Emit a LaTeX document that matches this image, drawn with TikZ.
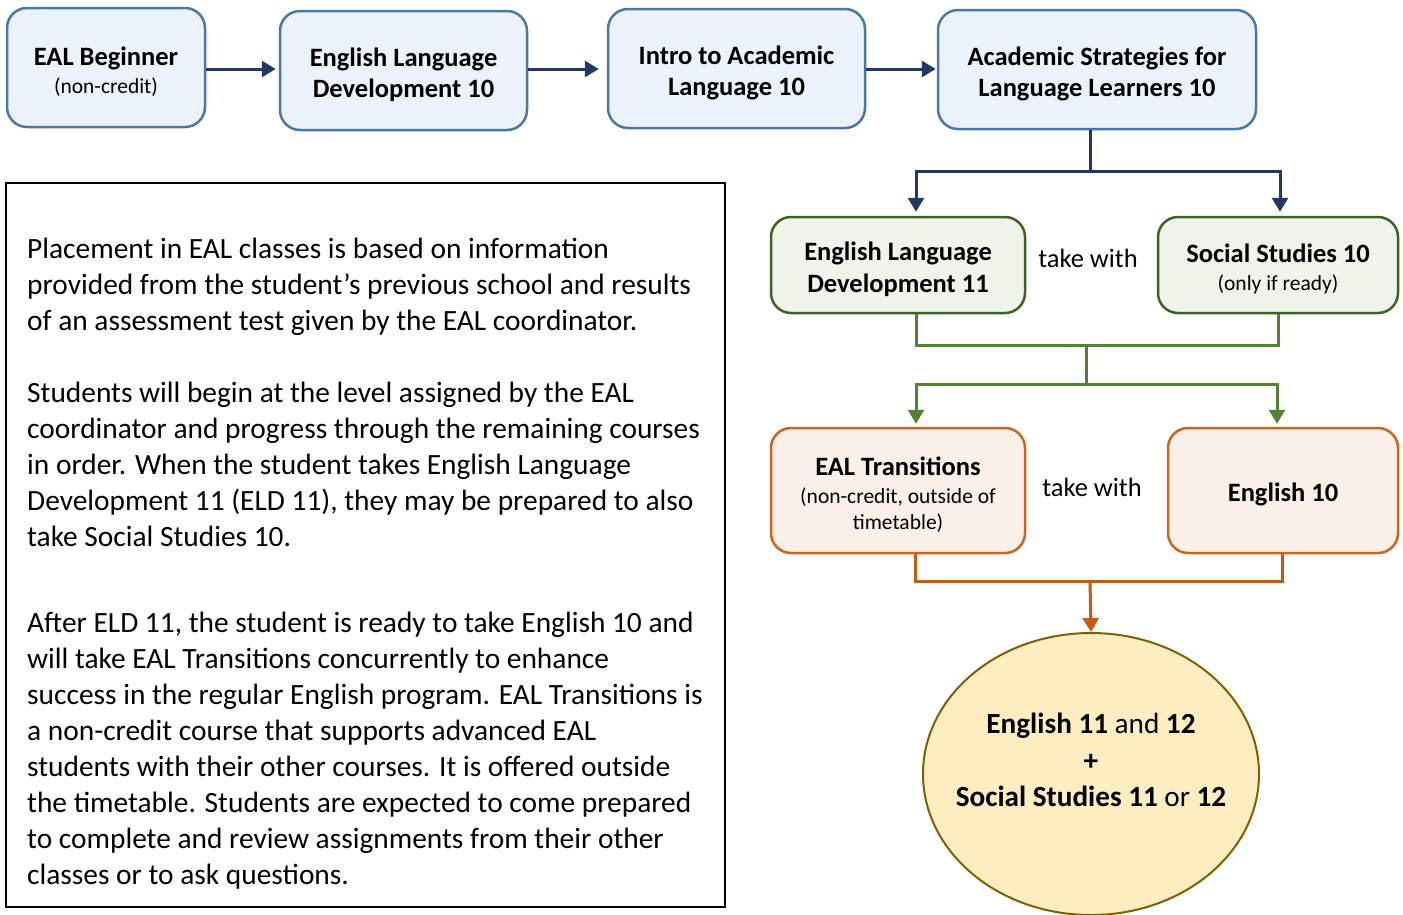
\documentclass[tikz,border=0pt]{standalone}
\usepackage{fontspec}
\setmainfont{Carlito}
\usetikzlibrary{arrows.meta,shapes.geometric}

\definecolor{blueFill}{HTML}{EBF2FA}
\definecolor{blueEdge}{HTML}{4A77A6}
\definecolor{navyLine}{HTML}{203864}
\definecolor{greenFill}{HTML}{EFF4EA}
\definecolor{greenEdge}{HTML}{3E6128}
\definecolor{greenLine}{HTML}{548235}
\definecolor{orangeFill}{HTML}{FBF0E8}
\definecolor{orangeEdge}{HTML}{C9651F}
\definecolor{orangeLine}{HTML}{C55A11}
\definecolor{goalFill}{HTML}{FEEDC0}
\definecolor{goalEdge}{HTML}{7F6000}

\newcommand{\subnote}[1]{{\fontsize{21.5}{26}\selectfont\mdseries #1}}
\newcommand{\topstrut}{\rule{0pt}{27pt}}

\tikzset{
	courseBox/.style={rectangle, rounded corners=20pt, line width=2.5pt, align=center, minimum height=119pt, font=\fontsize{26.5}{31.5}\selectfont\bfseries},
	blueBox/.style={courseBox, draw=blueEdge, fill=blueFill},
	greenBox/.style={courseBox, draw=greenEdge, fill=greenFill, minimum height=96pt},
	orangeBox/.style={courseBox, draw=orangeEdge, fill=orangeFill, minimum height=125pt},
	noteSpacing/.style={font=\fontsize{26.5}{28}\selectfont\bfseries},
	navyArrow/.style={draw=navyLine, line width=3pt, -{Triangle[length=14pt, width=16pt]}},
	greenArrow/.style={draw=greenLine, line width=3pt, -{Triangle[length=14pt, width=16pt]}},
	orangeArrow/.style={draw=orangeLine, line width=3pt, -{Triangle[length=14pt, width=16pt]}},
	takeWith/.style={font=\fontsize{26.5}{30}\selectfont},
	infoText/.style={anchor=north west, inner sep=0pt, align=left, font=\fontsize{29.4}{36}\selectfont}
}

\begin{document}
\begin{tikzpicture}[x=1pt, y=-1pt]
	\useasboundingbox (0,0) rectangle (1403,914);

	% top row of courses
	\node[blueBox, noteSpacing, minimum width=198pt](ealBeginBox) at (106,67.5){\topstrut EAL Beginner\\\subnote{(non-credit)}};
	\node[blueBox, minimum width=247pt](eld10Box) at (403.5,70.5){\topstrut English Language\\Development 10};
	\node[blueBox, minimum width=257pt](intro10Box) at (736.5,68.5){\topstrut Intro to Academic\\Language 10};
	\node[blueBox, minimum width=318pt](asll10Box) at (1097,69.5){\topstrut Academic Strategies for\\Language Learners 10};

	\draw[navyArrow, shorten >=3pt] (ealBeginBox.east |- 0,69) -- (eld10Box.west |- 0,69);
	\draw[navyArrow, shorten >=8pt] (eld10Box.east |- 0,69) -- (intro10Box.west |- 0,69);
	\draw[navyArrow, shorten >=1pt] (intro10Box.east |- 0,69) -- (asll10Box.west |- 0,69);

	% info text box
	\node[rectangle, draw=black, line width=1.5pt, minimum width=719pt, minimum height=724pt](infoBox) at (365.5,545){};
	\node[infoText](infoPara1) at (27,237.5){Placement in EAL classes is based on information\\provided from the student’s previous school and results\\of an assessment test given by the EAL coordinator.};
	\node[infoText](infoPara2) at (27,381.5){Students will begin at the level assigned by the EAL\\coordinator and progress through the remaining courses\\in order. When the student takes English Language\\Development 11 (ELD 11), they may be prepared to also\\take Social Studies 10.};
	\node[infoText](infoPara3) at (27,611.5){After ELD 11, the student is ready to take English 10 and\\will take EAL Transitions concurrently to enhance\\success in the regular English program. EAL Transitions is\\a non-credit course that supports advanced EAL\\students with their other courses. It is offered outside\\the timetable. Students are expected to come prepared\\to complete and review assignments from their other\\classes or to ask questions.};

	% grade 10/11 pair
	\node[greenBox, minimum width=254pt](eld11Box) at (898,265){\topstrut English Language\\Development 11};
	\node[greenBox, noteSpacing, minimum width=240pt](ss10Box) at (1278,265){\topstrut Social Studies 10\\\subnote{(only if ready)}};
	\node[takeWith](takeWith1) at (1088,258){take with};

	\coordinate(navySplit) at (1090,171);
	\draw[draw=navyLine, line width=3pt] (asll10Box.south -| navySplit) -- (navySplit);
	\draw[navyArrow, shorten >=4pt] (navySplit) -| ([xshift=18pt]eld11Box.north);
	\draw[navyArrow, shorten >=4pt] (navySplit) -| ([xshift=2pt]ss10Box.north);

	% transitions pair
	\node[orangeBox, noteSpacing, minimum width=254pt](ealTransBox) at (898,490.5){\topstrut EAL Transitions\\\subnote{(non-credit, outside of}\\[-2pt]\subnote{timetable)}};
	\node[orangeBox, minimum width=230pt](eng10Box) at (1283,490.5){\topstrut English 10};
	\node[takeWith](takeWith2) at (1092,487){take with};

	\coordinate(greenJoin) at (1086,345);
	\coordinate(greenSplit) at (1086,384);
	\draw[draw=greenLine, line width=3pt] ([xshift=18pt]eld11Box.south) |- (greenJoin) -| (ss10Box.south);
	\draw[draw=greenLine, line width=3pt] (greenJoin) -- (greenSplit);
	\draw[greenArrow, shorten >=3pt] (greenSplit) -| ([xshift=18pt]ealTransBox.north);
	\draw[greenArrow, shorten >=3pt] (greenSplit) -| ([xshift=-6pt]eng10Box.north);

	% goal
	\node[ellipse, draw=goalEdge, line width=2pt, fill=goalFill, minimum width=336pt, minimum height=282pt](goalEllipse) at (1091,774){};
	\node[align=center, font=\fontsize{29.2}{36.5}\selectfont](goalText) at (1091,760){\textbf{English 11} and \textbf{12}\\\textbf{+}\\\textbf{Social Studies 11} or \textbf{12}};

	\coordinate(orangeJoin) at (1090,581);
	\draw[draw=orangeLine, line width=3pt] ([xshift=17pt]ealTransBox.south) |- (orangeJoin) -| ([xshift=-1pt]eng10Box.south);
	\draw[orangeArrow] (orangeJoin) -- (goalEllipse.north);
\end{tikzpicture}
\end{document}
